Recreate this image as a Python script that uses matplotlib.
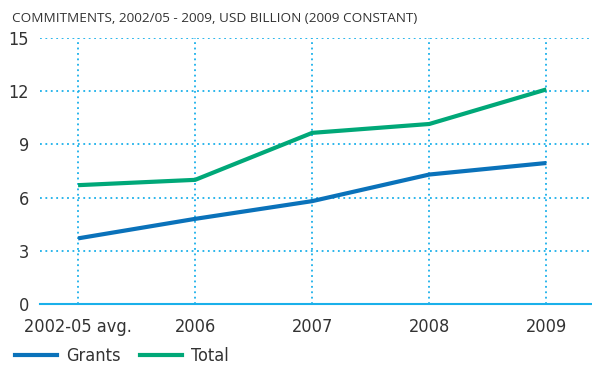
import matplotlib.pyplot as plt
from matplotlib import font_manager
from matplotlib.lines import Line2D

categories = ["2002-05 avg.", "2006", "2007", "2008", "2009"]
grants = [3.7, 4.8, 5.8, 7.3, 7.95]
total = [6.7, 7.0, 9.65, 10.15, 12.1]
yticks = [0, 3, 6, 9, 12, 15]

grid_col = "#1ab0ea"
blue = "#0a72ba"
green = "#00a878"
text_col = "#333333"

installed = {f.name for f in font_manager.fontManager.ttflist}
narrow = "Liberation Sans Narrow" if "Liberation Sans Narrow" in installed else "DejaVu Sans"
narrow_stretch = "normal" if narrow == "Liberation Sans Narrow" else "condensed"

plt.rcParams["font.family"] = [narrow, "DejaVu Sans"]
plt.rcParams["font.stretch"] = narrow_stretch

fig = plt.figure(figsize=(5.92, 3.67), dpi=100)
ax = fig.add_axes([0.0676, 0.1717, 0.9324, 0.7248])

x = list(range(len(categories)))
ax.plot(x, grants, color=blue, lw=3.0, solid_capstyle="butt", zorder=3)
ax.plot(x, total, color=green, lw=3.0, solid_capstyle="butt", zorder=3)

ax.set_xlim(-0.325, 4.39)
ax.set_ylim(0, 15)
ax.set_xticks(x)
ax.set_xticklabels(categories)
ax.set_yticks(yticks)

for t in yticks[1:]:
    ax.axhline(t, color=grid_col, lw=1.3, ls=(0, (1, 2)), zorder=1)
for i in x:
    ax.axvline(i, color=grid_col, lw=1.3, ls=(0, (1, 2)), zorder=1)
ax.axhline(0, color=grid_col, lw=1.5, zorder=2, clip_on=False)

for s in ax.spines.values():
    s.set_visible(False)
ax.tick_params(length=0, labelsize=13, colors=text_col)
ax.tick_params(axis="x", pad=10)
ax.tick_params(axis="y", pad=8)

fig.text(0.02, 0.95, "COMMITMENTS, 2002/05 - 2009, USD BILLION (2009 CONSTANT)",
         fontsize=9.7, color=text_col, va="center", family=["Open Sans", "DejaVu Sans"],
         fontstretch="normal")

handles = [Line2D([], [], color=blue, lw=3.0), Line2D([], [], color=green, lw=3.0)]
fig.legend(handles, ["Grants", "Total"], loc="center left", bbox_to_anchor=(0.026, 0.03),
           ncol=2, frameon=False, fontsize=13, handlelength=2.3, columnspacing=1.1,
           handletextpad=0.5, borderpad=0, borderaxespad=0, labelcolor=text_col)

fig.savefig("out.png", dpi=100)
